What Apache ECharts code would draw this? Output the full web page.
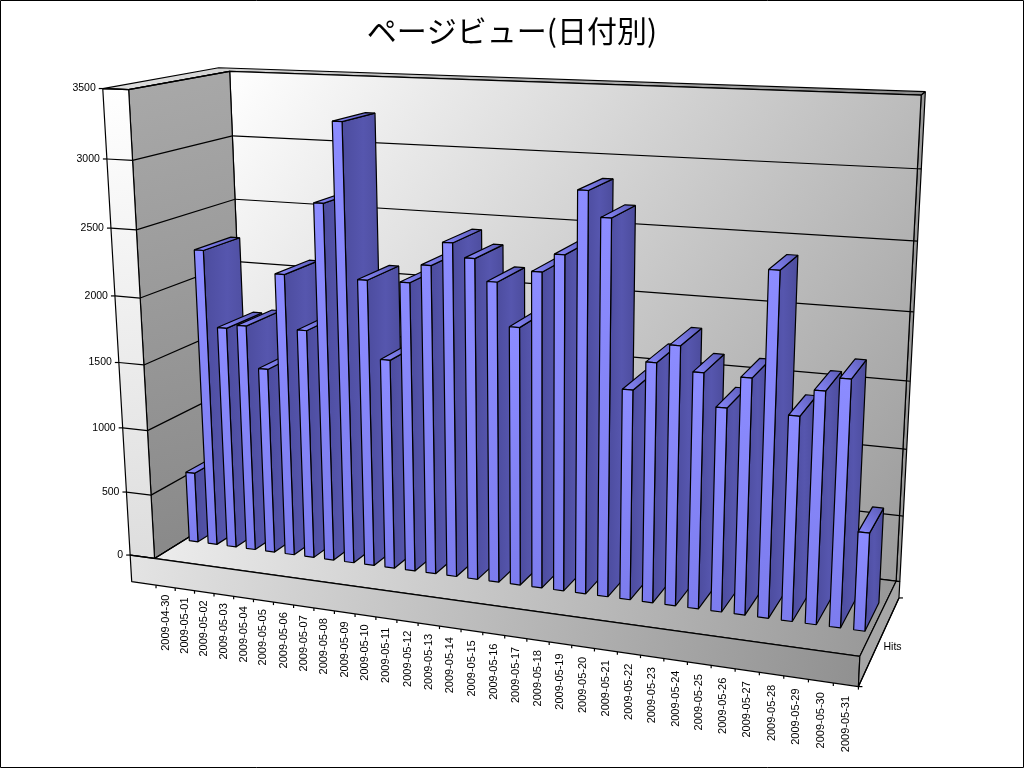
<!DOCTYPE html>
<html><head><meta charset="utf-8">
<style>html,body{margin:0;padding:0;background:#fff}#c{width:1024px;height:768px}</style>
<script src="https://cdn.jsdelivr.net/npm/echarts@6/dist/echarts.min.js"></script>
</head><body><div id="c"></div>
<script>
const chartTitle = 'ページビュー(日付別)';
const categories = ['2009-04-30','2009-05-01','2009-05-02','2009-05-03','2009-05-04','2009-05-05','2009-05-06','2009-05-07','2009-05-08','2009-05-09','2009-05-10','2009-05-11','2009-05-12','2009-05-13','2009-05-14','2009-05-15','2009-05-16','2009-05-17','2009-05-18','2009-05-19','2009-05-20','2009-05-21','2009-05-22','2009-05-23','2009-05-24','2009-05-25','2009-05-26','2009-05-27','2009-05-28','2009-05-29','2009-05-30','2009-05-31'];
const hits = [553,2290,1715,1745,1430,2155,1750,2695,3283,2160,1585,2165,2300,2472,2372,2216,1906,2310,2442,2893,2715,1532,1740,1873,1699,1468,1692,2437,1460,1648,1745,700];
const yTicks = [0,500,1000,1500,2000,2500,3000,3500];
const seriesName = 'Hits';

// Perspective camera fitted to the box corners: [X,Y,Z, screenX,screenY]
const anchors = [
 [0,0,0,155,558],[1,0,0,860,657],[0,1,0,128,89],
 [0,0,1,247,501],[1,0,1,897,580],[0,1,1,230,72],[1,1,1,922,95],
 [0,1/7,0,151,496],[0,2/7,0,147,430],[0,3/7,0,144,365],[0,4/7,0,140,298],[0,5/7,0,137,230],[0,6/7,0,133,160],
 [0,6/7,1,232,136],[0,5/7,1,235,199],[1,6/7,1,917,169],[1,5/7,1,913,241],
 [11/32,0,0,376,589],[28/32,0,0,759,643]
];
function fitCamera(pts){
  const n=11,A=Array.from({length:n},()=>new Array(n+1).fill(0));
  const add=(r,b)=>{for(let i=0;i<n;i++){for(let j=0;j<n;j++)A[i][j]+=r[i]*r[j];A[i][n]+=r[i]*b;}};
  pts.forEach(([X,Y,Z,x,y])=>{
    add([X,Y,Z,1,0,0,0,0,-x*X,-x*Y,-x*Z],x);
    add([0,0,0,0,X,Y,Z,1,-y*X,-y*Y,-y*Z],y);
  });
  for(let i=0;i<n;i++){
    let p=i;for(let r=i+1;r<n;r++)if(Math.abs(A[r][i])>Math.abs(A[p][i]))p=r;
    [A[i],A[p]]=[A[p],A[i]];
    for(let r=0;r<n;r++){if(r===i)continue;const f=A[r][i]/A[i][i];for(let c=i;c<=n;c++)A[r][c]-=f*A[i][c];}
  }
  return A.map((row,i)=>row[n]/row[i]);
}
const M = fitCamera(anchors);
function proj(X,Y,Z){
  const w=M[8]*X+M[9]*Y+M[10]*Z+1;
  return [(M[0]*X+M[1]*Y+M[2]*Z+M[3])/w,(M[4]*X+M[5]*Y+M[6]*Z+M[7])/w];
}
const G={left:100,top:100,width:800,height:500};
const toUnit=p=>[(p[0]-G.left)/G.width,(G.top+G.height-p[1])/G.height];

const LG=echarts.graphic.LinearGradient;
const wallT=-0.04, slabT=-0.061, slabBackT=-0.036, capY=1.007, rimX=1.005;
const glob=(x,y,x2,y2,c0,c1)=>new LG(x,y,x2,y2,[{offset:0,color:c0},{offset:1,color:c1}],true);
const fillBack=glob(230,70,900,580,'#ffffff','#9a9a9a');
const fillInner=glob(130,90,250,520,'#a8a8a8','#8a8a8a');
const fillOuter=glob(100,90,140,580,'#ffffff','#dcdcdc');
const fillFloor=glob(160,530,880,650,'#ececec','#989898');
const fillSlab=glob(130,555,860,690,'#e4e4e4','#909090');
const fillCap=glob(100,70,920,95,'#e0e0e0','#8c8c8c');
function poly(pts,fill){
  return {type:'polygon',shape:{points:pts},style:{fill:fill,stroke:'#000',lineWidth:1.2,lineJoin:'bevel'},silent:true};
}
function line(a,b){return {type:'line',shape:{x1:a[0],y1:a[1],x2:b[0],y2:b[1]},style:{stroke:'#000',lineWidth:1.2,fill:null},silent:true};}

function renderBox(){
  const p=proj, lb=p(wallT*0.45,capY,1);
  return {type:'group',children:[
    poly([p(wallT,1,0),lb,p(rimX,capY,1),p(1,1,1),p(0,1,1),p(0,1,0)],fillCap),
    poly([p(1,1,1),p(rimX,capY,1),p(rimX,0,1),p(1,0,1)],'#9a9a9a'),
    poly([p(0,1,1),p(1,1,1),p(1,0,1),p(0,0,1)],fillBack),
    poly([p(0,1,0),p(0,1,1),p(0,0,1),p(0,0,0)],fillInner),
    poly([p(wallT,1,0),p(0,1,0),p(0,0,0),p(wallT,0,0)],fillOuter),
    poly([p(0,0,0),p(0,0,1),p(1,0,1),p(1,0,0)],fillFloor),
    poly([p(wallT,0,0),p(1,0,0),p(1,slabT,0),p(wallT,slabT,0)],fillSlab),
    poly([p(1,0,0),p(1,0,1),p(rimX,0,1),p(rimX,slabBackT,1),p(1,slabT,0)],'#a6a6a6')
  ]};
}
function renderGrid(params,api){
  const Y=toUnit(api.coord([0,api.value(1)]))[1];
  const o=proj(wallT,Y,0);
  const kids=[line([o[0]-4,o[1]],o),line(o,proj(0,Y,0)),line(proj(0,Y,0),proj(0,Y,1))];
  if(Y>0&&Y<1)kids.push(line(proj(0,Y,1),proj(1,Y,1)),line(proj(1,Y,1),proj(rimX,Y,1)));
  return {type:'group',children:kids};
}
function renderYLabel(params,api){
  const Y=toUnit(api.coord([0,api.value(1)]))[1];
  const o=proj(wallT,Y,0);
  return {type:'text',x:o[0]-7,y:o[1],silent:true,style:{text:String(api.value(1)),align:'right',verticalAlign:'middle',fill:'#000',font:'10.5px "Liberation Sans"'}};
}
const barW=0.46, z0=0.30, z1=0.68;
function renderBar(params,api){
  const c=api.coord([api.value(0),api.value(1)]);
  const u=toUnit(c), half=barW/2*api.size([1,0])[0]/G.width;
  const x0=u[0]-half,x1=u[0]+half,Y=u[1],p=proj;
  return {type:'group',children:[
    poly([p(x1,Y,z0),p(x1,Y,z1),p(x1,0,z1),p(x1,0,z0)],new LG(0,0,1,0,[{offset:0,color:'#4c4c9e'},{offset:.5,color:'#5656ae'},{offset:1,color:'#4c4c9c'}])),
    poly([p(x0,Y,z0),p(x0,Y,z1),p(x1,Y,z1),p(x1,Y,z0)],new LG(0,1,1,0,[{offset:0,color:'#8a8aff'},{offset:1,color:'#5a5ab4'}])),
    poly([p(x0,Y,z0),p(x1,Y,z0),p(x1,0,z0),p(x0,0,z0)],new LG(0,0,0,1,[{offset:0,color:'#8c8cff'},{offset:1,color:'#7c7cee'}]))
  ]};
}
function renderXTick(params,api){
  const k=api.value(0);
  const c=toUnit(api.coord([k,0]));
  const half=api.size([1,0])[0]/G.width/2;
  const a=proj(c[0]+half,slabT,0);
  const base=proj(c[0],slabT,0);
  const kids=[line(a,[a[0],a[1]+3]),
   {type:'text',x:base[0],y:base[1]+8+k*0.1,rotation:Math.PI/2,silent:true,
    style:{text:categories[k],align:'right',verticalAlign:'middle',fill:'#000',font:'11px "Liberation Sans"'}}];
  if(k===0){const s=proj(c[0]-half,slabT,0);kids.push(line(s,[s[0],s[1]+3]));}
  return {type:'group',children:kids};
}
function renderDepth(){
  const a=proj(1,slabT,0),b=proj(rimX,slabBackT,1),m=proj(1,slabT,0.5);
  return {type:'group',children:[
    line(a,b),line(a,[a[0]+4,a[1]]),line(b,[b[0]+4,b[1]]),
    {type:'text',x:m[0]+6,y:m[1]+1,silent:true,style:{text:seriesName,align:'left',verticalAlign:'middle',fill:'#000',font:'10.5px "Liberation Sans"'}}
  ]};
}
const chart=echarts.init(document.getElementById('c'),null,{renderer:'canvas',width:1024,height:768});
const custom=(name,fn,data,z)=>({name,type:'custom',renderItem:fn,data,z,silent:true,animation:false,clip:false,encode:{x:0,y:1}});
chart.setOption({
  animation:false,backgroundColor:'#fff',
  title:{text:chartTitle,left:'center',top:11,textStyle:{color:'#000',fontSize:30,fontWeight:'normal',fontFamily:'"Noto Sans CJK JP"'}},
  graphic:[{type:'rect',shape:{x:.5,y:.5,width:1023,height:767},style:{fill:null,stroke:'#000',lineWidth:1},silent:true,z:100}],
  grid:G,
  xAxis:{type:'category',data:categories,show:false},
  yAxis:{type:'value',min:0,max:3500,interval:500,show:false},
  tooltip:{show:false},
  series:[
    custom('box',renderBox,[[0,0]],1),
    custom('grid',renderGrid,yTicks.map(t=>[0,t]),2),
    custom('ylabels',renderYLabel,yTicks.map(t=>[0,t]),2),
    custom('xlabels',renderXTick,categories.map((c,k)=>[k,0]),2),
    custom('depth',renderDepth,[[0,0]],2),
    custom(seriesName,renderBar,hits.map((v,k)=>[k,v]),3)
  ]
});
</script></body></html>
